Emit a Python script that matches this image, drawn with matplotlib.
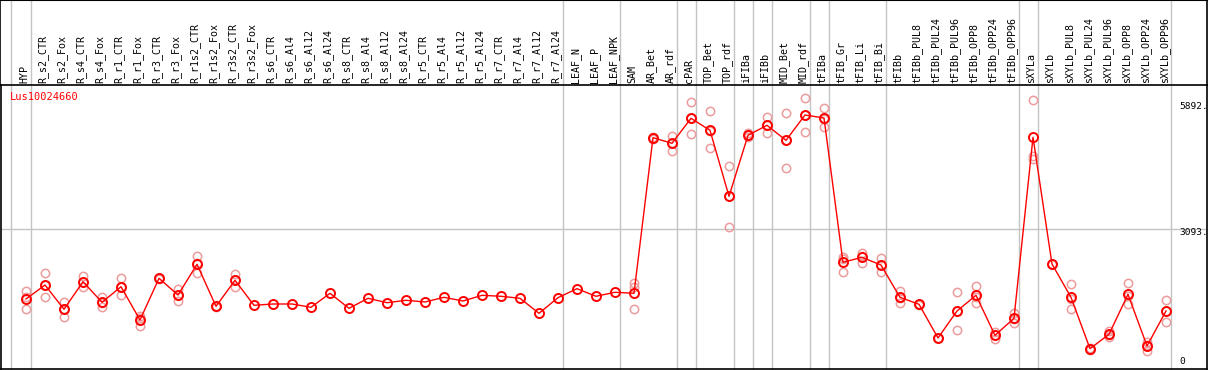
import matplotlib
matplotlib.use("Agg")
import matplotlib.pyplot as plt
import matplotlib.transforms as mtransforms

# ---------------- data ----------------
gene = "Lus10024660"
samples = ["HYP", "R_s2_CTR", "R_s2_Fox", "R_s4_CTR", "R_s4_Fox", "R_r1_CTR", "R_r1_Fox",
           "R_r3_CTR", "R_r3_Fox", "R_r1s2_CTR", "R_r1s2_Fox", "R_r3s2_CTR", "R_r3s2_Fox",
           "R_s6_CTR", "R_s6_Al4", "R_s6_Al12", "R_s6_Al24", "R_s8_CTR", "R_s8_Al4",
           "R_s8_Al12", "R_s8_Al24", "R_r5_CTR", "R_r5_Al4", "R_r5_Al12", "R_r5_Al24",
           "R_r7_CTR", "R_r7_Al4", "R_r7_Al12", "R_r7_Al24", "LEAF_N", "LEAF_P", "LEAF_NPK",
           "SAM", "AR_Bet", "AR_rdf", "cPAR", "TOP_Bet", "TOP_rdf", "iFIBa", "iFIBb",
           "MID_Bet", "MID_rdf", "tFIBa", "tFIB_Gr", "tFIB_Li", "tFIB_Bi", "tFIBb",
           "tFIBb_PUL8", "tFIBb_PUL24", "tFIBb_PUL96", "tFIBb_OPP8", "tFIBb_OPP24",
           "tFIBb_OPP96", "sXYLa", "sXYLb", "sXYLb_PUL8", "sXYLb_PUL24", "sXYLb_PUL96",
           "sXYLb_OPP8", "sXYLb_OPP24", "sXYLb_OPP96"]

means = [1515, 1829, 1284, 1904, 1441, 1791, 1044, 1980, 1605, 2294, 1351, 1935, 1374,
         1403, 1403, 1329, 1643, 1306, 1531, 1432, 1486, 1448, 1553, 1470, 1598, 1576,
         1531, 1194, 1545, 1747, 1576, 1666, 1643, 5136, 5010, 5571, 5302, 3820, 5190,
         5414, 5077, 5645, 5578, 2339, 2451, 2278, 1553, 1396, 640, 1246, 1598, 700,
         1082, 5145, 2301, 1553, 400, 723, 1621, 460, 1246]

replicates = [
    [1695, 1284, 1560], [2092, 1553, 1840], [1448, 1118, 1290], [2031, 1791, 1890],
    [1567, 1342, 1415], [1980, 1605, 1790], [1134, 909, 1090], [1995, 1970],
    [1740, 1463, 1610], [2474, 2092, 2316], [1351, 1345], [2070, 1791, 1945],
    [], [], [], [], [], [], [], [], [], [], [], [], [], [], [], [], [], [], [], [],
    [1881, 1791, 1284], [5150, 5110], [5174, 4844, 5010], [5930, 5212, 5571],
    [5728, 4898, 5280], [4494, 3131, 3835], [5234, 5190, 5150], [5600, 5234, 5410],
    [5690, 4449, 5092], [6027, 5257, 5650], [5802, 5376, 5556], [2465, 2128, 2420],
    [2554, 2330, 2470], [2435, 2128, 2270], [1695, 1419, 1545], [1410, 1385],
    [650, 630], [1672, 819, 1246], [1807, 1419, 1568], [781, 610, 709],
    [1194, 983, 1070], [5975, 4725, 4665], [2310, 2290], [1852, 1284, 1523],
    [420, 380], [804, 669, 700], [1874, 1403, 1586], [550, 355, 475],
    [1493, 999, 1246],
]

group_bounds = [-0.8, 0.25, 28.25, 31.25, 34.25, 35.25, 37.25, 38.25, 39.25,
                41.25, 42.25, 45.25, 52.25, 53.25, 60.25]
tick_values = [5892, 3093, 0]
tick_labels = ["5892.", "3093.", "0"]

# ---------------- figure ----------------
W, H, DPI = 1209, 370, 100
fig = plt.figure(figsize=(W / DPI, H / DPI), dpi=DPI)

px_left, px_right, px_top, px_bot = 0.5, 1207.0, 85.3, 368.7
ax = fig.add_axes([px_left / W, 1 - px_bot / H, (px_right - px_left) / W, (px_bot - px_top) / H])

x0_px, step_px = 26.0, 19.0
ppu = 0.04455          # pixels per unit
zero_px = 366.5
ax.set_xlim((px_left - x0_px) / step_px, (px_right - x0_px) / step_px)
ax.set_ylim((zero_px - px_bot) / ppu, (zero_px - px_top) / ppu)
ax.set_xticks([])
ax.set_yticks([])
for s in ax.spines.values():
    s.set_color("black")
    s.set_linewidth(1.2)

font = "DejaVu Sans Mono"
fs = 7.2
gray = "#c4c4c4"
top_val = zero_px / ppu  # value at figure top

# grid lines
ax.axhline(tick_values[1], color=gray, lw=1, zorder=1)
for b in group_bounds:
    ax.plot([b, b], [ax.get_ylim()[0], top_val], color=gray, lw=1, clip_on=False, zorder=1)

# header border
xl, xr = ax.get_xlim()
ax.plot([xl, xr], [top_val - 10, top_val - 10], color="black", lw=1.5, clip_on=False)
ax.plot([xl, xl], [ax.get_ylim()[1], top_val], color="black", lw=1.2, clip_on=False)
ax.plot([xr, xr], [ax.get_ylim()[1], top_val], color="black", lw=1.2, clip_on=False)

# column labels
lab_tr = mtransforms.blended_transform_factory(ax.transData, ax.transAxes)
lab_y = (px_bot - 83.0) / (px_bot - px_top)
for i, s in enumerate(samples):
    ax.text(i - 0.1, lab_y, s, rotation=90, ha="center", va="bottom", fontsize=fs,
            family=font, transform=lab_tr, clip_on=False)

# gene name
ax.text((10 - px_left) / (px_right - px_left), (px_bot - 97) / (px_bot - px_top), gene,
        color="red", fontsize=fs + 0.3, family=font, ha="left", va="center",
        transform=ax.transAxes)

# right tick labels
tick_offsets_px = [2.7, 3.3, -4.5]   # label centre below (+) / above (-) the value line
for v, lab, off in zip(tick_values, tick_labels, tick_offsets_px):
    tr = ax.transData + mtransforms.ScaledTranslation(0, -off / DPI, fig.dpi_scale_trans)
    ax.text((1179 - x0_px) / step_px, v, lab, fontsize=6.8, family=font,
            ha="left", va="center", transform=tr)

# replicates
for i, reps in enumerate(replicates):
    if reps:
        ax.plot([i] * len(reps), reps, linestyle="none", marker="o", ms=6, mfc="none",
                mec="#ec9c9c", mew=1.1, zorder=2)

# mean line + markers
xs = list(range(len(means)))
ax.plot(xs, means, color="#ff0000", lw=1, zorder=3)
ax.plot(xs, means, linestyle="none", marker="o", ms=6.5, mfc="none", mec="#ff0000",
        mew=1.4, zorder=4)

fig.savefig("out.png", dpi=DPI)
